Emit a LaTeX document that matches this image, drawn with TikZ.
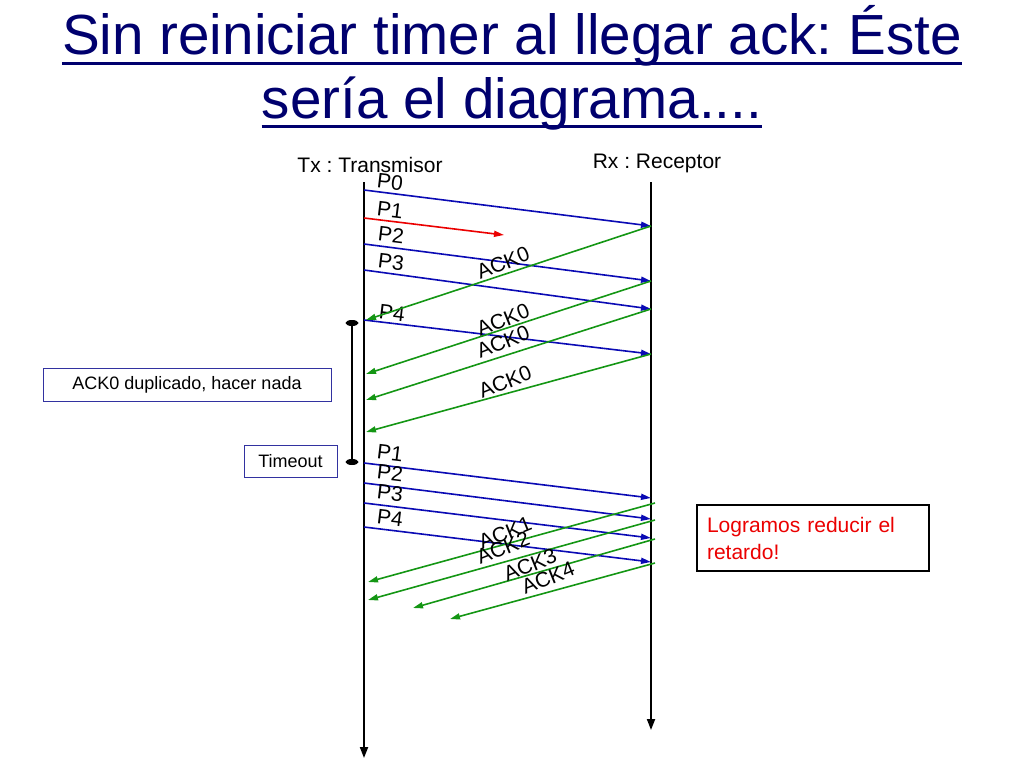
\documentclass[tikz,border=0pt]{standalone}
\usepackage{fontspec}
\setmainfont{Liberation Sans}
\usetikzlibrary{arrows.meta}
\definecolor{titleblue}{RGB}{0,0,110}
\definecolor{pktblue}{RGB}{10,10,180}
\definecolor{ackgreen}{RGB}{20,150,20}
\definecolor{lossred}{RGB}{235,0,0}
\definecolor{boxblue}{RGB}{50,50,160}
\tikzstyle{life} = [line width=1.9pt,-{Triangle[length=11pt,width=8pt]}]
\tikzstyle{pkt} = [pktblue,line width=1.6pt,-{Triangle[length=10pt,width=6pt]}]
\tikzstyle{ack} = [ackgreen,line width=1.6pt,-{Triangle[length=10pt,width=6pt]}]
\tikzstyle{lost} = [lossred,line width=1.6pt,-{Triangle[length=10pt,width=6pt]}]
\tikzstyle{lbl} = [font=\fontsize{21}{21}\selectfont,inner sep=0pt]
\tikzstyle{note} = [draw=boxblue,line width=1pt,font=\fontsize{18}{18}\selectfont,inner sep=0pt]
\tikzstyle{titletext} = [anchor=base,inner sep=0pt,titleblue,font=\fontsize{56.6}{60}\selectfont]
\tikzstyle{titleline} = [titleblue,line width=3pt]

\begin{document}
\frenchspacing
\begin{tikzpicture}[x=1pt,y=-1pt]
\useasboundingbox (0,0) rectangle (1024,768);
% title
\node (title1) [titletext] at (512,55) {Sin reiniciar timer al llegar ack: Éste};
\node (title2) [titletext] at (512,118) {sería el diagrama....};
\draw [titleline] ([yshift=-8pt]title1.base west) -- ([yshift=-8pt]title1.base east);
\draw [titleline] ([yshift=-8pt]title2.base west) -- ([yshift=-8pt]title2.base east);

% sender and receiver
\node (tx) [lbl] at (370,165) {Tx : Transmisor};
\node (rx) [lbl] at (657,163) {Rx : Receptor};
\coordinate (txtop) at (364,182);
\coordinate (txbot) at (364,758);
\coordinate (rxtop) at (651,182);
\coordinate (rxbot) at (651,730);
\draw [life] (txtop) -- (txbot);
\draw [life] (rxtop) -- (rxbot);

% first window
\coordinate (p0s) at (364,190); \coordinate (p0r) at (651,226);
\coordinate (p1s) at (364,218); \coordinate (p1r) at (504,235);
\coordinate (p2s) at (364,244); \coordinate (p2r) at (651,281);
\coordinate (p3s) at (364,270); \coordinate (p3r) at (651,309);
\coordinate (p4s) at (364,320); \coordinate (p4r) at (651,354);
\draw [pkt]  (p0s) -- (p0r);
\draw [lost] (p1s) -- (p1r);
\draw [pkt]  (p2s) -- (p2r);
\draw [pkt]  (p3s) -- (p3r);
\draw [pkt]  (p4s) -- (p4r);
\node (lp0) [lbl,rotate=-7] at (390,182) {P0};
\node (lp1) [lbl,rotate=-7] at (390,210) {P1};
\node (lp2) [lbl,rotate=-7] at (391,235) {P2};
\node (lp3) [lbl,rotate=-7] at (391,262) {P3};
\node (lp4) [lbl,rotate=-7] at (392,313) {P4};

\coordinate (a0s) at (651,226); \coordinate (a0r) at (366,320);
\coordinate (a2s) at (651,281); \coordinate (a2r) at (366,374);
\coordinate (a3s) at (651,309); \coordinate (a3r) at (366,400);
\coordinate (a4s) at (651,354); \coordinate (a4r) at (366,432);
\draw [ack] (a0s) -- (a0r);
\draw [ack] (a2s) -- (a2r);
\draw [ack] (a3s) -- (a3r);
\draw [ack] (a4s) -- (a4r);
\node (la0) [lbl,rotate=22] at (503,263) {ACK0};
\node (la2) [lbl,rotate=22] at (503,320) {ACK0};
\node (la3) [lbl,rotate=22] at (503,342) {ACK0};
\node (la4) [lbl,rotate=22] at (505,382) {ACK0};

% timer
\coordinate (tmtop) at (352,323);
\coordinate (tmbot) at (352,462);
\draw [line width=1.5pt] (tmtop) -- (tmbot);
\fill (tmtop) ellipse (6.5 and 3);
\fill (tmbot) ellipse (6.5 and 3);
\node (dup) [note,minimum width=288,minimum height=33] at (187,384.5) {ACK0 duplicado, hacer nada};
\node (tout) [note,minimum width=93,minimum height=32] at (290.5,461) {Timeout};

% second window
\coordinate (q1s) at (364,463); \coordinate (q1r) at (651,498);
\coordinate (q2s) at (364,483); \coordinate (q2r) at (651,519);
\coordinate (q3s) at (364,503); \coordinate (q3r) at (651,538);
\coordinate (q4s) at (364,527); \coordinate (q4r) at (651,562);
\draw [pkt] (q1s) -- (q1r);
\draw [pkt] (q2s) -- (q2r);
\draw [pkt] (q3s) -- (q3r);
\draw [pkt] (q4s) -- (q4r);
\node (lq1) [lbl,rotate=-7] at (390,453) {P1};
\node (lq2) [lbl,rotate=-7] at (390,473) {P2};
\node (lq3) [lbl,rotate=-7] at (390,493) {P3};
\node (lq4) [lbl,rotate=-7] at (390,518) {P4};

\coordinate (b1s) at (655,503); \coordinate (b1r) at (368,582);
\coordinate (b2s) at (655,520); \coordinate (b2r) at (368,600);
\coordinate (b3s) at (655,539); \coordinate (b3r) at (413,608);
\coordinate (b4s) at (655,563); \coordinate (b4r) at (450,619);
\draw [ack] (b1s) -- (b1r);
\draw [ack] (b2s) -- (b2r);
\draw [ack] (b3s) -- (b3r);
\draw [ack] (b4s) -- (b4r);
\node (lb1) [lbl,rotate=22] at (505,533) {ACK1};
\node (lb2) [lbl,rotate=22] at (503,548) {ACK2};
\node (lb3) [lbl,rotate=22] at (530,565) {ACK3};
\node (lb4) [lbl,rotate=22] at (548,578) {ACK4};

\node (result) [draw,line width=1.3pt,lossred,draw=black,align=left,text width=212,inner sep=10,
  minimum height=66,font=\fontsize{21}{27}\selectfont] at (813,538) {Logramos reducir el\\retardo!};
\end{tikzpicture}
\end{document}
